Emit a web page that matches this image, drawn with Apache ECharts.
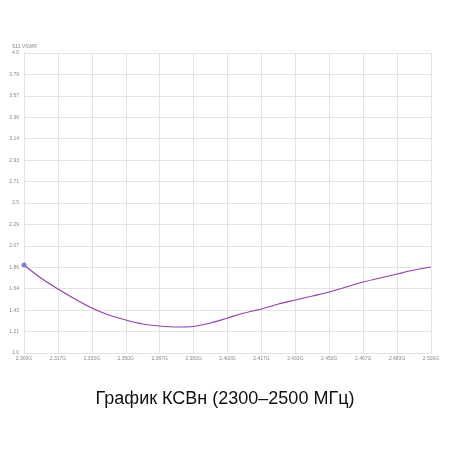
<!DOCTYPE html>
<html>
<head>
<meta charset="utf-8">
<script src="https://cdn.jsdelivr.net/npm/echarts@6/dist/echarts.min.js"></script>
<style>
  html, body { margin: 0; padding: 0; background: #fff; }
  #chart { width: 450px; height: 450px; }
</style>
</head>
<body>
<div id="chart"></div>
<script>
// frequency in MHz, S11 VSWR
var freqs = [2300, 2308.3, 2316.7, 2325, 2333.3, 2341.7, 2350, 2358.3, 2366.7, 2375, 2383.3, 2391.7,
  2400, 2408.3, 2416.7, 2425, 2433.3, 2441.7, 2450, 2458.3, 2466.7, 2475, 2483.3, 2491.7, 2500]
var vswr = [1.88, 1.75, 1.64, 1.54, 1.45, 1.38, 1.33, 1.29, 1.27, 1.26, 1.265, 1.30,
  1.35, 1.40, 1.44, 1.49, 1.53, 1.57, 1.61, 1.66, 1.71, 1.75, 1.79, 1.83, 1.86]
var xTickLabels = ['2.300G', '2.317G', '2.333G', '2.350G', '2.367G', '2.383G', '2.400G',
  '2.417G', '2.433G', '2.450G', '2.467G', '2.483G', '2.500G']
var yTickLabels = ['1.0', '1.21', '1.43', '1.64', '1.86', '2.07', '2.29', '2.5',
  '2.71', '2.93', '3.14', '3.36', '3.57', '3.79', '4.0']

var chart = echarts.init(document.getElementById('chart'))

var seriesData = freqs.map(function(f, i) {
  if (i === 0) {
    return { value: [f, vswr[i]], symbol: 'circle', symbolSize: 5, itemStyle: { color: '#7b7bf0' } }
  }
  return { value: [f, vswr[i]], symbol: 'none' }
})

var gridColor = '#e4e4e4'
var labelStyle = { fontSize: 5, color: '#888', fontFamily: 'Liberation Sans' }

var option = {
  backgroundColor: '#fff',
  animation: false,
  title: {
    text: 'График КСВн (2300–2500 МГц)',
    left: 'center',
    top: 385,
    textStyle: { fontSize: 18, fontWeight: 'normal', color: '#111', fontFamily: 'Liberation Sans' }
  },
  grid: { left: 24, right: 19, top: 53, bottom: 97 },
  xAxis: [{
    // visible tick axis (tick index)
    type: 'value',
    min: 0,
    max: xTickLabels.length - 1,
    interval: 1,
    axisLine: { lineStyle: { color: gridColor } },
    axisTick: { show: false },
    splitLine: { show: true, lineStyle: { color: gridColor } },
    axisLabel: Object.assign({ margin: 3, formatter: function(v) { return xTickLabels[v] } }, labelStyle)
  }, {
    type: 'value',
    min: freqs[0],
    max: freqs[freqs.length - 1],
    show: false
  }],
  yAxis: [{
    type: 'value',
    min: 0,
    max: yTickLabels.length - 1,
    interval: 1,
    name: 'S11 VSWR',
    nameGap: 4,
    nameTextStyle: { fontSize: 5, color: '#888', align: 'left', padding: [0, 0, 0, -12] },
    axisLine: { show: true, lineStyle: { color: gridColor } },
    axisTick: { show: false },
    splitLine: { show: true, lineStyle: { color: gridColor } },
    axisLabel: Object.assign({ margin: 5, formatter: function(v) { return yTickLabels[v] } }, labelStyle)
  }, {
    type: 'value',
    min: 1,
    max: 4,
    show: false
  }],
  series: [{
    type: 'line',
    xAxisIndex: 1,
    yAxisIndex: 1,
    data: seriesData,
    showSymbol: true,
    smooth: 0.3,
    lineStyle: { color: '#933fae', width: 1.2 },
    itemStyle: { color: '#933fae' }
  }]
}

chart.setOption(option)
</script>
</body>
</html>
